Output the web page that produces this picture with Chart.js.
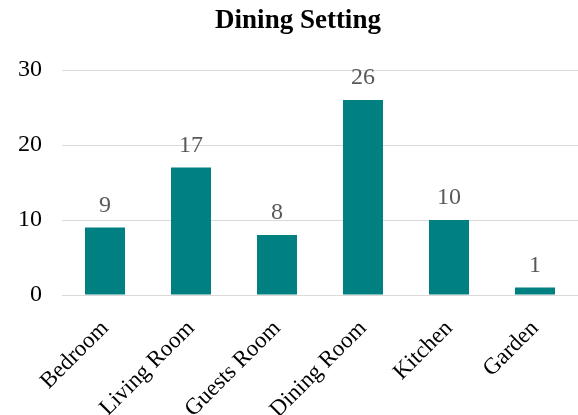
<!DOCTYPE html>
<html>
<head>
<meta charset="utf-8">
<script src="https://cdn.jsdelivr.net/npm/chart.js@4/dist/chart.umd.min.js"></script>
<style>
  html, body { margin: 0; padding: 0; background: #fff; }
  #wrap { width: 578px; height: 415px; }
</style>
</head>
<body>
<div id="wrap"><canvas id="myChart" width="578" height="415"></canvas></div>
<script>
const categories = ['Bedroom', 'Living Room', 'Guests Room', 'Dining Room', 'Kitchen', 'Garden'];
const values = [9, 17, 8, 26, 10, 1];
const yTicks = [0, 10, 20, 30];

const serif = "'Liberation Serif', 'Times New Roman', serif";

// draw the value above each bar
const valueLabels = {
    id: 'valueLabels',
    afterDatasetsDraw(chart){
        const ctx = chart.ctx;
        const meta = chart.getDatasetMeta(0);
        ctx.save();
        ctx.font = '24px ' + serif;
        ctx.fillStyle = '#595959';
        ctx.textAlign = 'center';
        ctx.textBaseline = 'alphabetic';
        meta.data.forEach((bar, i) => {
            ctx.fillText(String(values[i]), bar.x, bar.y - 16);
        });
        ctx.restore();
    }
};

new Chart(document.getElementById('myChart'), {
    type: 'bar',
    data: {
        labels: categories,
        datasets: [{
            data: values,
            backgroundColor: '#008080',
            borderWidth: 0,
            categoryPercentage: 1,
            barPercentage: 0.465
        }]
    },
    plugins: [valueLabels],
    options: {
        responsive: false,
        animation: false,
        layout: { padding: { left: 18, right: 0, top: 0, bottom: 0 } },
        plugins: {
            legend: { display: false },
            tooltip: { enabled: false },
            title: {
                display: true,
                text: 'Dining Setting',
                color: '#000',
                font: { family: serif, size: 27, weight: 'bold' },
                padding: { top: 5, bottom: 32.6 }
            }
        },
        scales: {
            x: {
                grid: { display: false },
                border: { display: false },
                afterFit(scale){
                    scale.height = 120;
                    scale.paddingLeft = 0;
                    scale.paddingRight = 0;
                },
                ticks: {
                    color: '#000',
                    font: { family: serif, size: 23 },
                    minRotation: 45,
                    maxRotation: 45,
                    padding: 12
                }
            },
            y: {
                min: 0,
                max: 30,
                afterBuildTicks(axis){
                    axis.ticks = yTicks.map(v => ({ value: v }));
                },
                afterFit(scale){
                    scale.width = 44;
                },
                grid: { color: '#d9d9d9', lineWidth: 1, drawTicks: false },
                border: { display: false },
                ticks: {
                    color: '#000',
                    font: { family: serif, size: 24 },
                    padding: 20
                }
            }
        }
    }
});
</script>
</body>
</html>
